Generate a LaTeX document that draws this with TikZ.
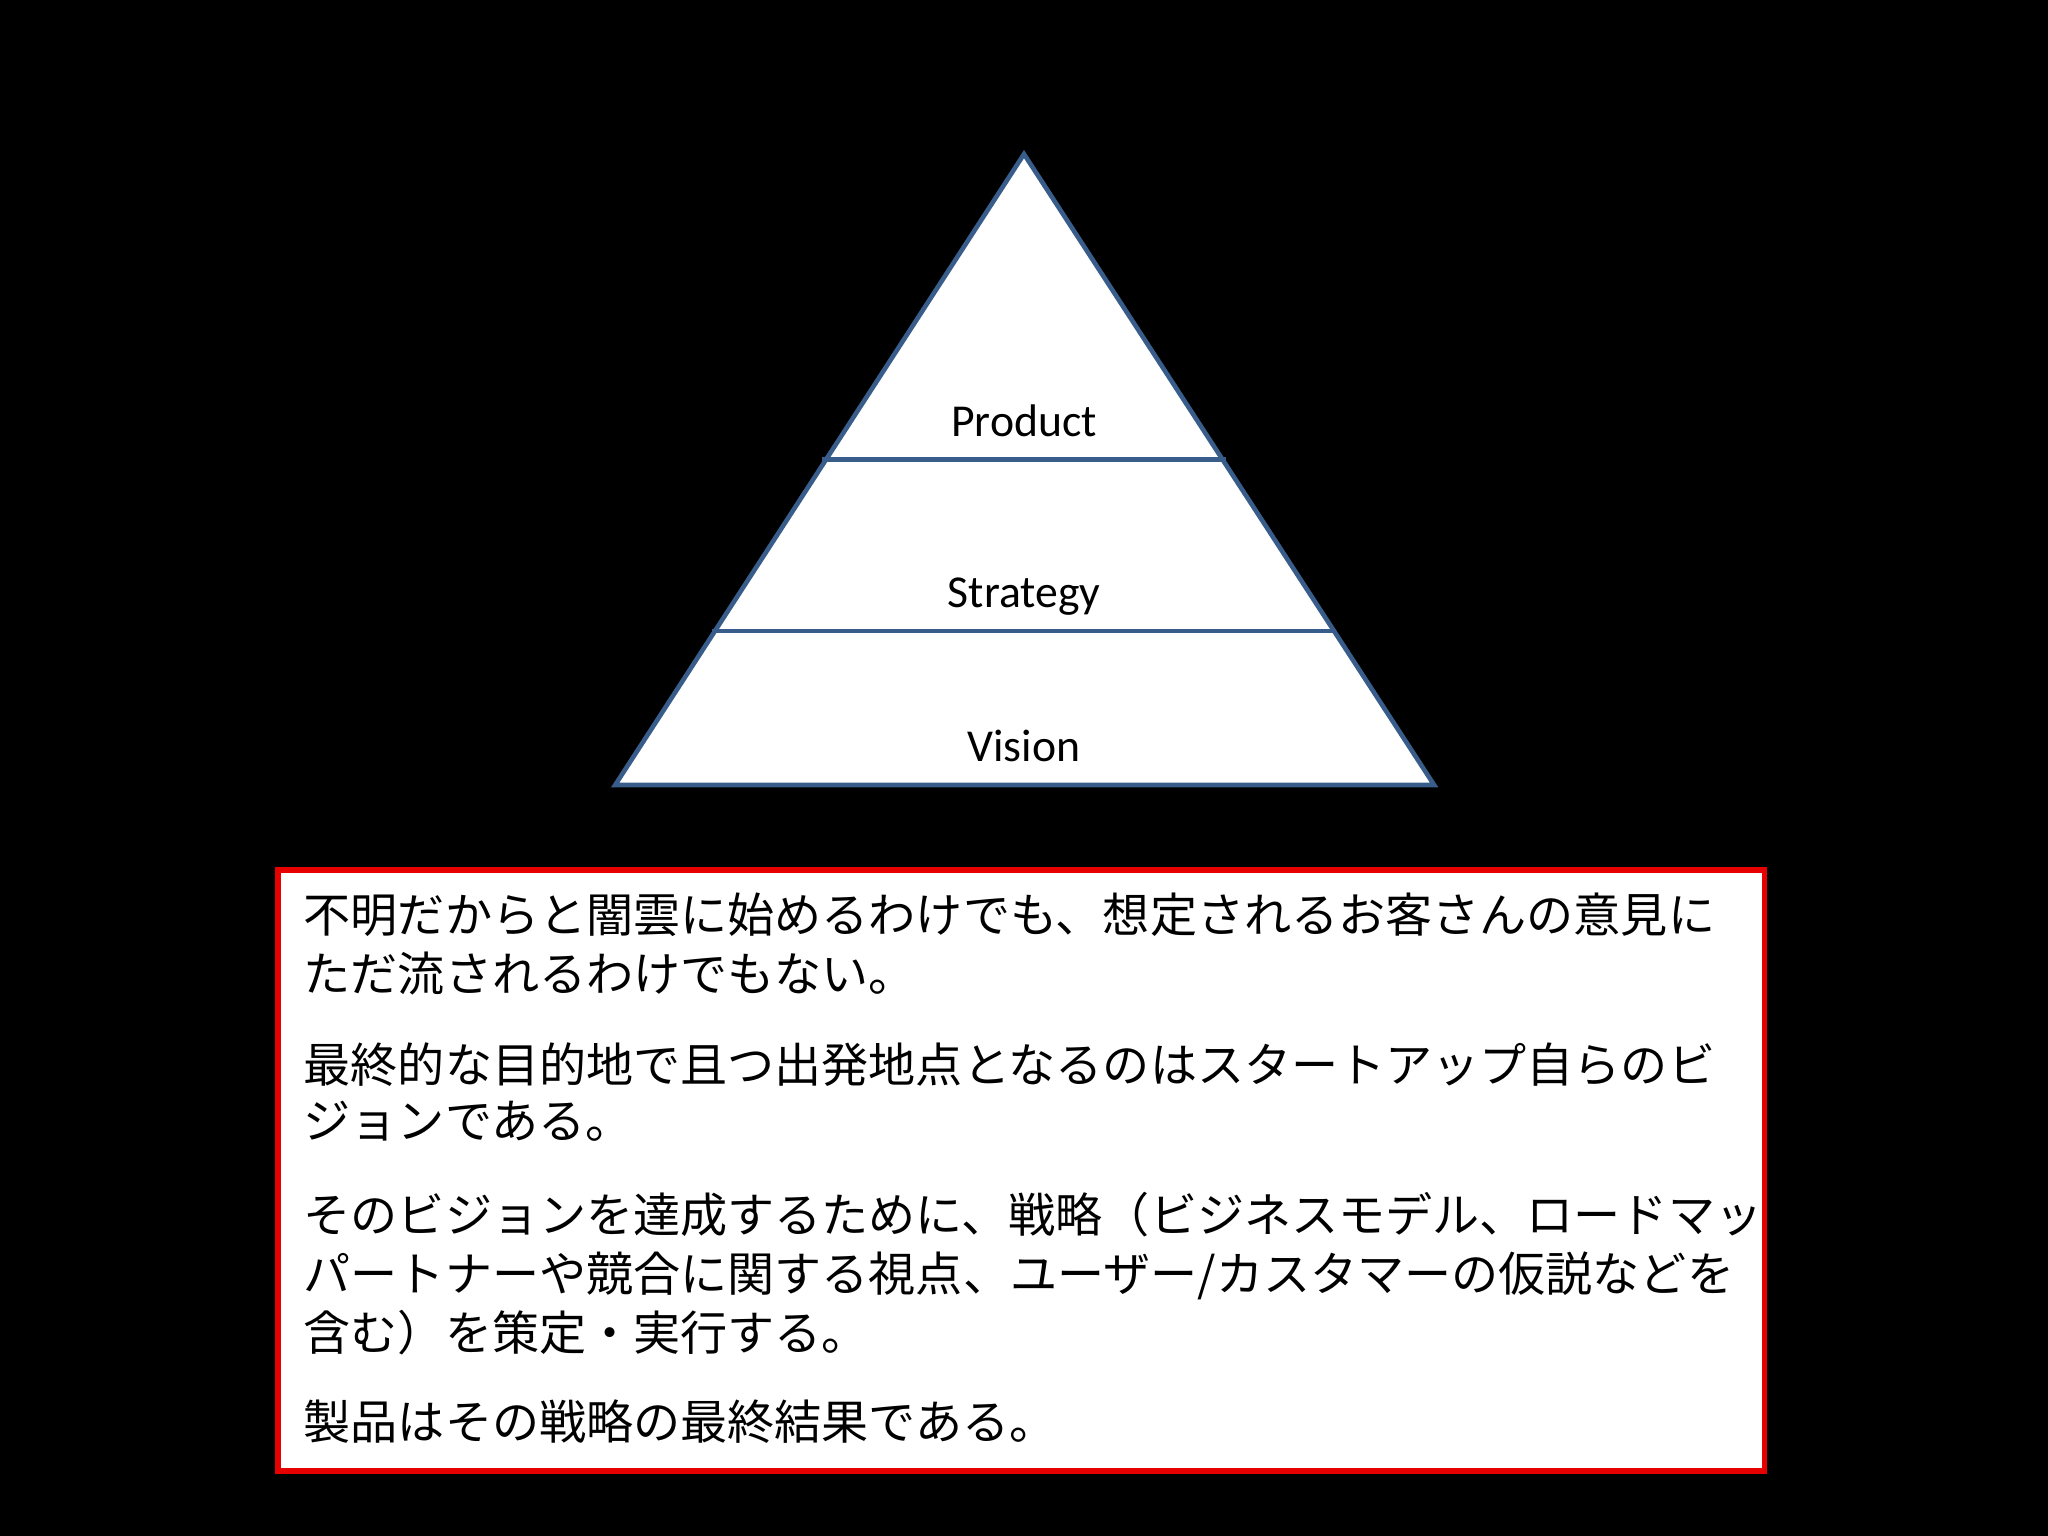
\documentclass[tikz,border=0pt]{standalone}
\usepackage{fontspec}
\setmainfont{Carlito}
\newfontfamily\jp{Noto Sans CJK JP}
\begin{document}
\begin{tikzpicture}[x=0.013061cm,y=-0.013061cm,
  lbl/.style={font=\fontsize{13pt}{15pt}\selectfont, text=black, anchor=base},
  jl/.style={font=\jp\fontsize{13.4pt}{16pt}\selectfont, text=black, anchor=base west, inner sep=0pt}]
\fill[black] (0,0) rectangle (1568,1176);
\useasboundingbox (0,0) rectangle (1568,1176);
\coordinate (A) at (784,118);
\coordinate (BL) at (471,601);
\coordinate (BR) at (1098,601);
\coordinate (P1) at (629,352); \coordinate (P2) at (939,352);
\coordinate (S1) at (545,483); \coordinate (S2) at (1023,483);
\draw[fill=white, draw={rgb,255:red,56;green,93;blue,138}, line width=1.3pt, line join=miter] (A) -- (BR) -- (BL) -- cycle;
\draw[draw={rgb,255:red,56;green,93;blue,138}, line width=1.3pt] (P1) -- (P2) (S1) -- (S2);
\node[lbl] (prod) at (784,334) {Product};
\node[lbl] (strat) at (784,465) {Strategy};
\node[lbl] (vis) at (784,583) {Vision};
\node[draw={rgb,255:red,230;green,0;blue,0}, fill=white, line width=1.6pt, minimum width=1138*0.013061cm, minimum height=460*0.013061cm, inner sep=0pt] (box) at (782,896) {};
\node[jl] (l1) at (232,714) {不明だからと闇雲に始めるわけでも、想定されるお客さんの意見に};
\node[jl] (l2) at (232,759) {ただ流されるわけでもない。};
\node[jl] (l3) at (232,829) {最終的な目的地で且つ出発地点となるのはスタートアップ自らのビ};
\node[jl] (l4) at (232,872) {ジョンである。};
\node[jl] (l5) at (232,944) {そのビジョンを達成するために、戦略（ビジネスモデル、ロードマップ、};
\node[jl] (l6) at (232,989) {パートナーや競合に関する視点、ユーザー/カスタマーの仮説などを};
\node[jl] (l7) at (232,1034) {含む）を策定・実行する。};
\node[jl] (l8) at (232,1102) {製品はその戦略の最終結果である。};
\end{tikzpicture}
\end{document}
